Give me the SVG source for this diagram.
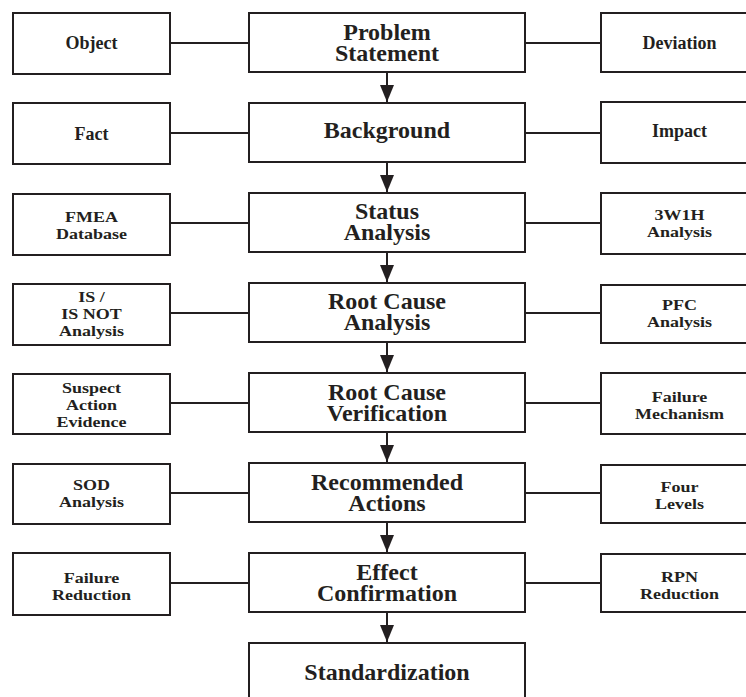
<svg xmlns="http://www.w3.org/2000/svg" width="746" height="697" viewBox="0 0 746 697">
<style>
.box{fill:#fff;stroke:#231f20;stroke-width:2}
.ln{stroke:#231f20;stroke-width:2;fill:none}
.c{font-family:"Liberation Serif","Times New Roman",serif;font-weight:bold;font-size:24px;text-anchor:middle;fill:#231f20}
.s{font-family:"Liberation Serif","Times New Roman",serif;font-weight:bold;font-size:18px;text-anchor:middle;fill:#231f20}
</style>
<defs>
<marker id="ah" viewBox="0 0 17 14" refX="17" refY="7" markerWidth="17" markerHeight="14" markerUnits="userSpaceOnUse" orient="auto">
<path d="M0,0 L17,7 L0,14 Z" fill="#231f20"/>
</marker>
</defs>
<rect width="746" height="697" fill="#fff"/>
<g id="connectors">
<line class="ln" x1="170" y1="43" x2="249" y2="43"/><line class="ln" x1="525" y1="43" x2="601" y2="43"/>
<line class="ln" x1="170" y1="133" x2="249" y2="133"/><line class="ln" x1="525" y1="133" x2="601" y2="133"/>
<line class="ln" x1="170" y1="223" x2="249" y2="223"/><line class="ln" x1="525" y1="223" x2="601" y2="223"/>
<line class="ln" x1="170" y1="313" x2="249" y2="313"/><line class="ln" x1="525" y1="313" x2="601" y2="313"/>
<line class="ln" x1="170" y1="403" x2="249" y2="403"/><line class="ln" x1="525" y1="403" x2="601" y2="403"/>
<line class="ln" x1="170" y1="493" x2="249" y2="493"/><line class="ln" x1="525" y1="493" x2="601" y2="493"/>
<line class="ln" x1="170" y1="583" x2="249" y2="583"/><line class="ln" x1="525" y1="583" x2="601" y2="583"/>
<line class="ln" x1="387" y1="72" x2="387" y2="102" marker-end="url(#ah)"/>
<line class="ln" x1="387" y1="162" x2="387" y2="192" marker-end="url(#ah)"/>
<line class="ln" x1="387" y1="252" x2="387" y2="282" marker-end="url(#ah)"/>
<line class="ln" x1="387" y1="342" x2="387" y2="372" marker-end="url(#ah)"/>
<line class="ln" x1="387" y1="432" x2="387" y2="462" marker-end="url(#ah)"/>
<line class="ln" x1="387" y1="522" x2="387" y2="552" marker-end="url(#ah)"/>
<line class="ln" x1="387" y1="612" x2="387" y2="642" marker-end="url(#ah)"/>
</g>
<g id="problem-statement"><rect class="box" x="249" y="13" width="276" height="59"/><text class="c"><tspan x="387" y="40">Problem</tspan><tspan x="387" y="61">Statement</tspan></text></g>
<g id="background"><rect class="box" x="249" y="103" width="276" height="59"/><text class="c" x="387" y="138">Background</text></g>
<g id="status-analysis"><rect class="box" x="249" y="193" width="276" height="59"/><text class="c"><tspan x="387" y="219">Status</tspan><tspan x="387" y="240">Analysis</tspan></text></g>
<g id="root-cause-analysis"><rect class="box" x="249" y="283" width="276" height="59"/><text class="c"><tspan x="387" y="309">Root Cause</tspan><tspan x="387" y="330">Analysis</tspan></text></g>
<g id="root-cause-verification"><rect class="box" x="249" y="373" width="276" height="59"/><text class="c"><tspan x="387" y="400">Root Cause</tspan><tspan x="387" y="421">Verification</tspan></text></g>
<g id="recommended-actions"><rect class="box" x="249" y="463" width="276" height="59"/><text class="c"><tspan x="387" y="490">Recommended</tspan><tspan x="387" y="511">Actions</tspan></text></g>
<g id="effect-confirmation"><rect class="box" x="249" y="553" width="276" height="59"/><text class="c"><tspan x="387" y="580">Effect</tspan><tspan x="387" y="601">Confirmation</tspan></text></g>
<g id="standardization"><rect class="box" x="249" y="643" width="276" height="62"/><text class="c" x="387" y="680">Standardization</text></g>

<g id="object"><rect class="box" x="13" y="13" width="157" height="61"/><text class="s" x="91.5" y="49">Object</text></g>
<g id="fact"><rect class="box" x="13" y="103" width="157" height="61"/><text class="s" x="91.5" y="140">Fact</text></g>
<g id="fmea-database"><rect class="box" x="13" y="194" width="157" height="61"/><text class="s" transform="translate(91.5 222) scale(1 0.83)"><tspan x="0" y="0">FMEA</tspan><tspan x="0" y="20.5">Database</tspan></text></g>
<g id="is-is-not-analysis"><rect class="box" x="13" y="284" width="157" height="61"/><text class="s" transform="translate(91.5 302) scale(1 0.83)"><tspan x="0" y="0">IS /</tspan><tspan x="0" y="20.5">IS NOT</tspan><tspan x="0" y="41">Analysis</tspan></text></g>
<g id="suspect-action-evidence"><rect class="box" x="13" y="374" width="157" height="60"/><text class="s" transform="translate(91.5 393) scale(1 0.83)"><tspan x="0" y="0">Suspect</tspan><tspan x="0" y="20.5">Action</tspan><tspan x="0" y="41">Evidence</tspan></text></g>
<g id="sod-analysis"><rect class="box" x="13" y="464" width="157" height="60"/><text class="s" transform="translate(91.5 489.5) scale(1 0.83)"><tspan x="0" y="0">SOD</tspan><tspan x="0" y="20.5">Analysis</tspan></text></g>
<g id="failure-reduction"><rect class="box" x="13" y="553" width="157" height="62"/><text class="s" transform="translate(91.5 582.5) scale(1 0.83)"><tspan x="0" y="0">Failure</tspan><tspan x="0" y="20.5">Reduction</tspan></text></g>

<g id="deviation"><rect class="box" x="601" y="13" width="157" height="59"/><text class="s" x="679.5" y="49">Deviation</text></g>
<g id="impact"><rect class="box" x="601" y="102" width="157" height="61"/><text class="s" x="679.5" y="137">Impact</text></g>
<g id="3w1h-analysis"><rect class="box" x="601" y="193" width="157" height="61"/><text class="s" transform="translate(679.5 220) scale(1 0.83)"><tspan x="0" y="0">3W1H</tspan><tspan x="0" y="20.5">Analysis</tspan></text></g>
<g id="pfc-analysis"><rect class="box" x="601" y="285" width="157" height="58"/><text class="s" transform="translate(679.5 310) scale(1 0.83)"><tspan x="0" y="0">PFC</tspan><tspan x="0" y="20.5">Analysis</tspan></text></g>
<g id="failure-mechanism"><rect class="box" x="601" y="373" width="157" height="61"/><text class="s" transform="translate(679.5 402) scale(1 0.83)"><tspan x="0" y="0">Failure</tspan><tspan x="0" y="20.5">Mechanism</tspan></text></g>
<g id="four-levels"><rect class="box" x="601" y="465" width="157" height="58"/><text class="s" transform="translate(679.5 492) scale(1 0.83)"><tspan x="0" y="0">Four</tspan><tspan x="0" y="20.5">Levels</tspan></text></g>
<g id="rpn-reduction"><rect class="box" x="601" y="554" width="157" height="58"/><text class="s" transform="translate(679.5 581.5) scale(1 0.83)"><tspan x="0" y="0">RPN</tspan><tspan x="0" y="20.5">Reduction</tspan></text></g>
</svg>
